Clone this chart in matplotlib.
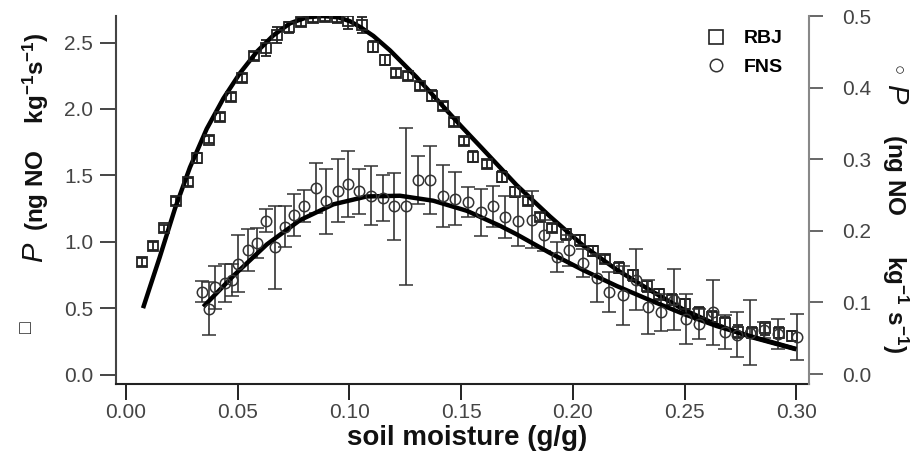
import matplotlib.pyplot as plt
from matplotlib.lines import Line2D

plt.rcParams['font.family'] = ['Liberation Sans', 'DejaVu Sans']
plt.rcParams['mathtext.fontset'] = 'custom'
plt.rcParams['mathtext.rm'] = 'Liberation Sans'
plt.rcParams['mathtext.it'] = 'Liberation Sans:italic'
plt.rcParams['mathtext.bf'] = 'Liberation Sans:bold'

# RBJ (squares, left axis)
rbj_x = [0.0071, 0.0122, 0.0170, 0.0224, 0.0276, 0.0319, 0.0372, 0.0421, 0.0469, 0.0521,
         0.0573, 0.0625, 0.0677, 0.0730, 0.0782, 0.0836, 0.0891, 0.0943, 0.0995, 0.1055,
         0.1107, 0.1159, 0.1210, 0.1262, 0.1315, 0.1368, 0.1420, 0.1470, 0.1512, 0.1555,
         0.1617, 0.1682, 0.1741, 0.1797, 0.1853, 0.1906, 0.1970, 0.2032, 0.2089, 0.2144,
         0.2208, 0.2268, 0.2331, 0.2387, 0.2443, 0.2503, 0.2563, 0.2622, 0.2682, 0.2737,
         0.2801, 0.2861, 0.2921, 0.2980]
rbj_y = [0.85, 0.97, 1.10, 1.31, 1.45, 1.63, 1.77, 1.94, 2.09, 2.23,
         2.40, 2.46, 2.56, 2.615, 2.655, 2.685, 2.695, 2.695, 2.66, 2.63,
         2.47, 2.37, 2.27, 2.25, 2.17, 2.10, 2.02, 1.90, 1.76, 1.64,
         1.588, 1.49, 1.374, 1.307, 1.19, 1.107, 1.056, 1.011, 0.931, 0.873,
         0.806, 0.748, 0.665, 0.605, 0.565, 0.53, 0.46, 0.435, 0.39, 0.322,
         0.315, 0.347, 0.315, 0.29]
rbj_err = [0.03, 0.03, 0.03, 0.03, 0.03, 0.04, 0.03, 0.03, 0.03, 0.03,
           0.03, 0.06, 0.06, 0.04, 0.03, 0.03, 0.03, 0.05, 0.06, 0.06,
           0.04, 0.04, 0.03, 0.03, 0.03, 0.04, 0.03, 0.03, 0.03, 0.04,
           0.03, 0.04, 0.04, 0.03, 0.03, 0.03, 0.04, 0.04, 0.04, 0.03,
           0.04, 0.04, 0.04, 0.04, 0.04, 0.04, 0.05, 0.04, 0.04, 0.05,
           0.04, 0.05, 0.04, 0.04]

# FNS (circles, right axis)
fns_x = [0.0339, 0.0371, 0.0398, 0.0443, 0.0473, 0.0503, 0.0547, 0.0585, 0.0627, 0.0667,
         0.0712, 0.0752, 0.0797, 0.0849, 0.0895, 0.0947, 0.0995, 0.1044, 0.1095, 0.1148,
         0.1201, 0.1253, 0.1309, 0.1361, 0.1418, 0.1473, 0.1532, 0.1588, 0.1644, 0.1697,
         0.1756, 0.1816, 0.1871, 0.1927, 0.1984, 0.2047, 0.2107, 0.2163, 0.2223, 0.2283,
         0.2338, 0.2393, 0.2453, 0.2507, 0.2566, 0.2626, 0.2682, 0.2734, 0.2793, 0.2856,
         0.2920, 0.3005]
fns_y = [0.115, 0.091, 0.121, 0.127, 0.131, 0.154, 0.173, 0.183, 0.214, 0.177,
         0.206, 0.222, 0.235, 0.260, 0.241, 0.256, 0.266, 0.255, 0.249, 0.246,
         0.234, 0.234, 0.271, 0.271, 0.249, 0.245, 0.240, 0.226, 0.234, 0.219,
         0.214, 0.2155, 0.194, 0.163, 0.173, 0.155, 0.134, 0.115, 0.110, 0.132,
         0.094, 0.086, 0.104, 0.077, 0.070, 0.086, 0.059, 0.055, 0.058, 0.062,
         0.056, 0.0517]
fns_err = [0.015, 0.037, 0.030, 0.027, 0.022, 0.040, 0.029, 0.021, 0.016, 0.058,
           0.028, 0.029, 0.022, 0.035, 0.046, 0.044, 0.046, 0.032, 0.041, 0.032,
           0.047, 0.110, 0.033, 0.048, 0.043, 0.0375, 0.021, 0.033, 0.029, 0.029,
           0.035, 0.040, 0.0215, 0.021, 0.0215, 0.020, 0.033, 0.028, 0.041, 0.043,
           0.0375, 0.026, 0.043, 0.035, 0.021, 0.046, 0.024, 0.031, 0.046, 0.011,
           0.021, 0.032]

# fitted curves
rbj_fit_x = [0.0076, 0.0107, 0.015, 0.0219, 0.0286, 0.0361, 0.0436, 0.051, 0.0585, 0.066,
             0.0734, 0.0809, 0.088, 0.095, 0.1003, 0.105, 0.1107, 0.1182, 0.13, 0.14,
             0.15, 0.159, 0.1749, 0.1898, 0.2047, 0.2196, 0.2346, 0.2495, 0.2644, 0.2793,
             0.30]
rbj_fit_y = [0.50, 0.66, 0.88, 1.25, 1.56, 1.85, 2.08, 2.27, 2.43, 2.555,
             2.645, 2.69, 2.70, 2.69, 2.66, 2.615, 2.55, 2.44, 2.24, 2.055,
             1.87, 1.71, 1.425, 1.19, 0.97, 0.79, 0.635, 0.49, 0.375, 0.285,
             0.19]
fns_fit_x = [0.0346, 0.048, 0.063, 0.0779, 0.0928, 0.1077, 0.1226, 0.1376, 0.1525, 0.1674,
             0.1749, 0.1898, 0.2047, 0.2196, 0.2346, 0.2495, 0.2644, 0.2793, 0.30]
fns_fit_y = [0.094, 0.137, 0.181, 0.215, 0.237, 0.248, 0.249, 0.242, 0.228, 0.207,
             0.195, 0.169, 0.145, 0.123, 0.103, 0.084, 0.067, 0.053, 0.035]

fig = plt.figure(figsize=(9.14, 4.66), dpi=100)
ax = fig.add_axes([116/914, 82/466, 693/914, 368/466])
ax2 = ax.twinx()

ax.errorbar(rbj_x, rbj_y, yerr=rbj_err, fmt='s', ms=6.5, mfc='none', mec='#222', mew=1.3,
            ecolor='#222', elinewidth=1.3, capsize=3.6, capthick=1.3)
ax.plot(rbj_fit_x, rbj_fit_y, color='black', lw=3.2, solid_capstyle='butt')

ax2.errorbar(fns_x, fns_y, yerr=fns_err, fmt='o', ms=7.5, mfc='none', mec='#333', mew=1.1,
             ecolor='#333', elinewidth=1.2, capsize=4.7, capthick=1.2)
ax2.plot(fns_fit_x, fns_fit_y, color='black', lw=3.2, solid_capstyle='butt')

ax.set_xlim(-0.0045, 0.3057)
ax.set_ylim(-0.071, 2.70)
ax2.set_ylim(-0.0139, 0.4986)
ax.set_xticks([0.00, 0.05, 0.10, 0.15, 0.20, 0.25, 0.30])
ax.set_yticks([0.0, 0.5, 1.0, 1.5, 2.0, 2.5])
ax2.set_yticks([0.0, 0.1, 0.2, 0.3, 0.4, 0.5])

for s in ['top', 'right']:
    ax.spines[s].set_visible(False)
for s in ['top', 'left', 'bottom']:
    ax2.spines[s].set_visible(False)
ax.spines['left'].set_color('#444')
ax.spines['left'].set_linewidth(1.5)
ax.spines['bottom'].set_color('#222')
ax.spines['bottom'].set_linewidth(1.5)
ax2.spines['right'].set_color('#888')
ax2.spines['right'].set_linewidth(1.5)

ax.tick_params(axis='y', direction='out', length=11.5, width=1.4, pad=5,
               labelsize=15, color='#444', labelcolor='#444')
ax.tick_params(axis='x', direction='out', length=11.5, width=1.4, pad=2.5,
               labelsize=15, color='#222', labelcolor='#444')
ax2.tick_params(axis='y', direction='out', length=10, width=1.4, pad=13.5,
                labelsize=15, color='#666', labelcolor='#444')
ax.xaxis.set_major_formatter(plt.FormatStrFormatter('%.2f'))
ax.yaxis.set_major_formatter(plt.FormatStrFormatter('%.1f'))
ax2.yaxis.set_major_formatter(plt.FormatStrFormatter('%.1f'))

fig.text(467/914, 1 - 438/466, 'soil moisture (g/g)', ha='center', va='center',
         fontsize=20, fontweight='bold', color='#111')

# left axis label
fig.text(27/914, 1 - 327/466, '\u25a1', rotation=90, ha='center', va='center', fontsize=14, color='#222')
fig.text(34/914, 1 - 252/466, 'P', rotation=90, ha='center', va='center', fontsize=21,
         style='italic', color='#111')
fig.text(36/914, 1 - 132/466, r'$\mathbf{(ng\ NO\ \ \ \ kg^{-1}s^{-1})}$', rotation=90,
         ha='center', va='center', fontsize=17.5, color='#111')

# right axis label
fig.text(897/914, 1 - 70/466, '\u25cb', rotation=-90, ha='center', va='center', fontsize=12, color='#222')
fig.text(895/914, 1 - 94/466, 'P', rotation=-90, ha='center', va='center', fontsize=21,
         style='italic', color='#111')
fig.text(895/914, 1 - 244/466, r'$\mathbf{(ng\ NO\ \ \ \ \ \ kg^{-1}\ s^{-1})}$', rotation=-90,
         ha='center', va='center', fontsize=17.5, color='#111')

handles = [Line2D([], [], marker='s', ls='none', mfc='none', mec='#222', mew=1.2, ms=10),
           Line2D([], [], marker='o', ls='none', mfc='none', mec='#333', mew=1.1, ms=9)]
ax.legend(handles, ['RBJ', 'FNS'], loc='upper left', bbox_to_anchor=(697/914, 1 - 20/466),
          bbox_transform=fig.transFigure, frameon=False, borderpad=0, handlelength=1.0,
          handletextpad=0.9, labelspacing=0.55, prop={'weight': 'bold', 'size': 14})

fig.savefig('out.png', dpi=100)
